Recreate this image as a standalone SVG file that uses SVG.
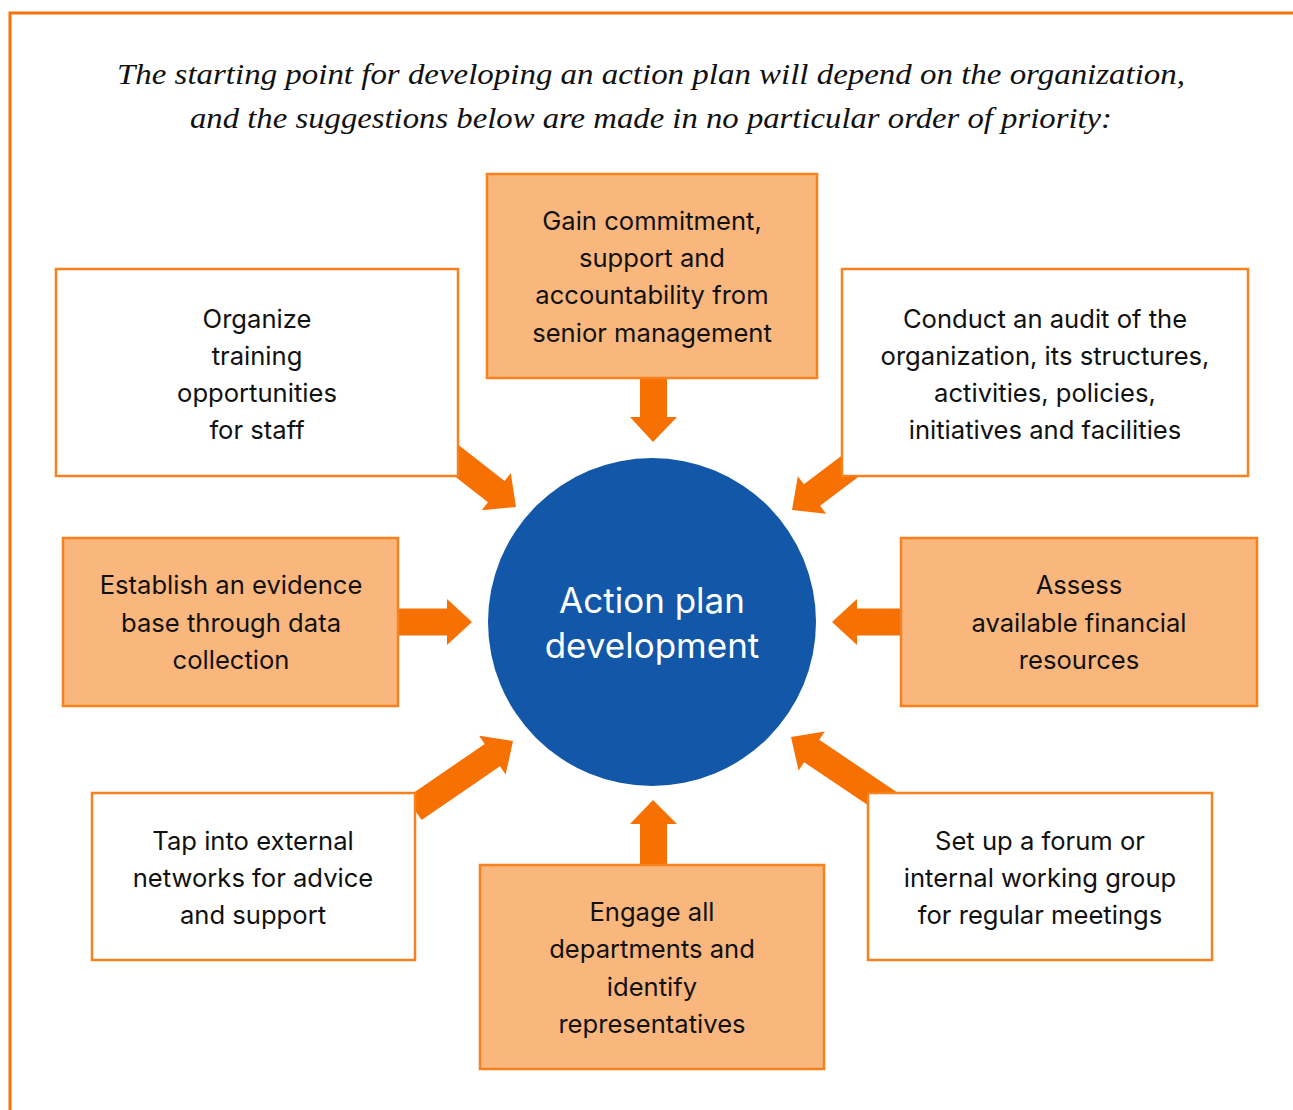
<svg xmlns="http://www.w3.org/2000/svg" width="1293" height="1110" viewBox="0 0 1293 1110">
<defs>
<style>
.box{stroke:#F7811E;stroke-width:2.5}
.fill{fill:#F9B77E}
.white{fill:#FFFFFF}
.t{font-family:Inter,"Liberation Sans",sans-serif;font-size:25.6px;fill:#111111;text-anchor:middle}
.title{font-family:"Liberation Serif",serif;font-style:italic;font-size:30px;fill:#111111;text-anchor:middle}
.ct{font-family:Inter,"Liberation Sans",sans-serif;font-size:35px;fill:#FFFFFF;text-anchor:middle}
.arr{fill:#F77002}
</style>
<path id="a" d="M0 0 L-25 -23.5 L-25 -13.5 L-120 -13.5 L-120 13.5 L-25 13.5 L-25 23.5 Z"/>
</defs>
<rect width="1293" height="1110" fill="#FFFFFF"/>
<rect x="10" y="13" width="1300" height="1110" fill="none" stroke="#F7730A" stroke-width="3"/>
<text class="title" x="651" y="84" textLength="1068" lengthAdjust="spacingAndGlyphs">The starting point for developing an action plan will depend on the organization,</text>
<text class="title" x="651" y="128" textLength="922" lengthAdjust="spacingAndGlyphs">and the suggestions below are made in no particular order of priority:</text>
<g id="connectors" class="arr">
<path d="M653 442 L630 417 L640 417 L640 370 L667 370 L667 417 L677 417 Z"/>
<path d="M472 622 L447 599 L447 608.5 L390 608.5 L390 635.5 L447 635.5 L447 645 Z"/>
<path d="M832 622 L857 599 L857 608.5 L910 608.5 L910 635.5 L857 635.5 L857 645 Z"/>
<path d="M653 800 L630 824 L640 824 L640 875 L667 875 L667 824 L677 824 Z"/>
<use href="#a" transform="translate(516 507) rotate(38)"/>
<use href="#a" transform="translate(792 510) rotate(143)"/>
<use href="#a" transform="translate(513 741) rotate(-34.4)"/>
<use href="#a" transform="translate(791 737) rotate(-146)"/>
</g>
<g id="center">
<circle cx="652" cy="622" r="164" fill="#1257A8"/>
<text class="ct" x="652" y="613">Action plan</text>
<text class="ct" x="652" y="658">development</text>
</g>
<g id="n-commitment">
<rect class="box fill" x="487" y="174" width="330" height="204"/>
<text class="t" x="652" y="230">Gain commitment,</text>
<text class="t" x="652" y="267">support and</text>
<text class="t" x="652" y="304">accountability from</text>
<text class="t" x="652" y="342">senior management</text>
</g>
<g id="n-training">
<rect class="box white" x="56" y="269" width="402" height="207"/>
<text class="t" x="257" y="328">Organize</text>
<text class="t" x="257" y="365">training</text>
<text class="t" x="257" y="402">opportunities</text>
<text class="t" x="257" y="439">for staff</text>
</g>
<g id="n-audit">
<rect class="box white" x="842" y="269" width="406" height="207"/>
<text class="t" x="1045" y="328">Conduct an audit of the</text>
<text class="t" x="1045" y="365">organization, its structures,</text>
<text class="t" x="1045" y="402">activities, policies,</text>
<text class="t" x="1045" y="439">initiatives and facilities</text>
</g>
<g id="n-evidence">
<rect class="box fill" x="63" y="538" width="335" height="168"/>
<text class="t" x="231" y="594">Establish an evidence</text>
<text class="t" x="231" y="632">base through data</text>
<text class="t" x="231" y="669">collection</text>
</g>
<g id="n-financial">
<rect class="box fill" x="901" y="538" width="356" height="168"/>
<text class="t" x="1079" y="594">Assess</text>
<text class="t" x="1079" y="632">available financial</text>
<text class="t" x="1079" y="669">resources</text>
</g>
<g id="n-networks">
<rect class="box white" x="92" y="793" width="323" height="167"/>
<text class="t" x="253" y="850">Tap into external</text>
<text class="t" x="253" y="887">networks for advice</text>
<text class="t" x="253" y="924">and support</text>
</g>
<g id="n-departments">
<rect class="box fill" x="480" y="865" width="344" height="204"/>
<text class="t" x="652" y="921">Engage all</text>
<text class="t" x="652" y="958">departments and</text>
<text class="t" x="652" y="996">identify</text>
<text class="t" x="652" y="1033">representatives</text>
</g>
<g id="n-forum">
<rect class="box white" x="868" y="793" width="344" height="167"/>
<text class="t" x="1040" y="850">Set up a forum or</text>
<text class="t" x="1040" y="887">internal working group</text>
<text class="t" x="1040" y="924">for regular meetings</text>
</g>
</svg>
